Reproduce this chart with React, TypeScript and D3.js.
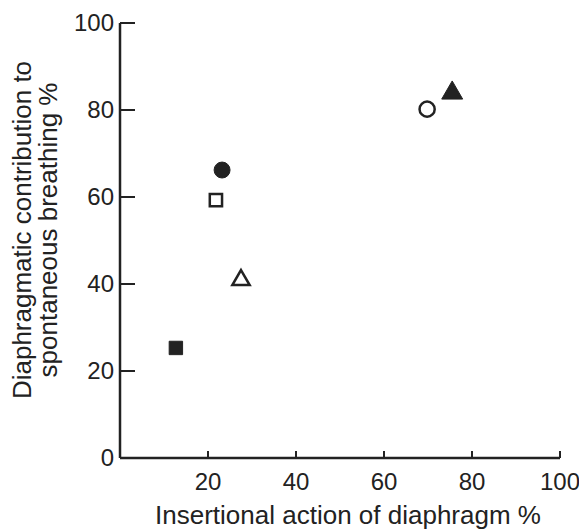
import React, { useEffect, useRef } from 'react';
import * as d3 from 'd3';

// points: [insertional action %, diaphragmatic contribution %]
const shapes = ['circle', 'square', 'triangle', 'square', 'circle', 'triangle'];
const filled = [true, false, false, true, false, true];
const xValues = [23.2, 21.8, 27.5, 12.7, 69.8, 75.5];
const yValues = [66.2, 59.3, 40.9, 25.3, 80.2, 83.9];
const xTicks = [20, 40, 60, 80, 100];
const yTicks = [0, 20, 40, 60, 80, 100];

const App = () => {
  const ref = useRef<SVGSVGElement>(null);

  useEffect(() => {
    const svg = d3.select(ref.current);
    svg.selectAll('*').remove();

    const x = d3.scaleLinear().domain([0, 100]).range([120, 560]);
    const y = d3.scaleLinear().domain([0, 100]).range([458, 23]);
    const font = 'Liberation Sans, Arial, sans-serif';
    const ink = '#222';

    // axes
    svg.append('line')
      .attr('x1', x(0)).attr('x2', x(100))
      .attr('y1', y(0)).attr('y2', y(0))
      .attr('stroke', ink).attr('stroke-width', 2.5);
    svg.append('line')
      .attr('x1', x(0)).attr('x2', x(0))
      .attr('y1', y(0)).attr('y2', y(100))
      .attr('stroke', ink).attr('stroke-width', 2.5);

    svg.selectAll('.xt')
      .data(xTicks)
      .enter()
      .append('line')
      .attr('x1', d => x(d)).attr('x2', d => x(d))
      .attr('y1', y(0)).attr('y2', y(0) - 7)
      .attr('stroke', ink).attr('stroke-width', 2);

    svg.selectAll('.yt')
      .data(yTicks.filter(d => d > 0))
      .enter()
      .append('line')
      .attr('x1', x(0)).attr('x2', x(0) + 15)
      .attr('y1', d => y(d)).attr('y2', d => y(d))
      .attr('stroke', ink).attr('stroke-width', 2);

    svg.selectAll('.xl')
      .data(xTicks)
      .enter()
      .append('text')
      .attr('x', d => x(d))
      .attr('y', 490)
      .attr('text-anchor', 'middle')
      .style('font-family', font).style('font-size', '24px').attr('fill', ink)
      .text(d => d);

    svg.selectAll('.yl')
      .data(yTicks)
      .enter()
      .append('text')
      .attr('x', 114)
      .attr('y', d => y(d) + 8)
      .attr('text-anchor', 'end')
      .style('font-family', font).style('font-size', '24px').attr('fill', ink)
      .text(d => d);

    // titles
    svg.append('text')
      .attr('x', 348).attr('y', 524)
      .attr('text-anchor', 'middle')
      .style('font-family', font).style('font-size', '26px').attr('fill', ink)
      .text('Insertional action of diaphragm %');

    const yt = svg.append('text')
      .attr('transform', 'translate(0,230) rotate(-90)')
      .attr('text-anchor', 'middle')
      .style('font-family', font).style('font-size', '26px').attr('fill', ink);
    yt.append('tspan').attr('x', 0).attr('y', 31).text('Diaphragmatic contribution to');
    yt.append('tspan').attr('x', 0).attr('y', 57).text('spontaneous breathing %');

    // points
    const data = xValues.map((v, i) => ({ x: v, y: yValues[i], shape: shapes[i], filled: filled[i] }));
    const symbolFor = (s: string) => s === 'circle' ? d3.symbolCircle : s === 'square' ? d3.symbolSquare : d3.symbolTriangle;
    const sizeFor = (d: any) => {
      if (d.shape === 'circle') return d.filled ? 200 : 180;
      if (d.shape === 'square') return d.filled ? 180 : 150;
      return d.filled ? 190 : 130;
    };

    svg.selectAll('.pt')
      .data(data)
      .enter()
      .append('path')
      .attr('transform', d => 'translate(' + x(d.x) + ',' + y(d.y) + ')')
      .attr('d', d => d3.symbol().type(symbolFor(d.shape)).size(sizeFor(d))())
      .attr('fill', d => d.filled ? ink : 'white')
      .attr('stroke', ink)
      .attr('stroke-width', d => d.filled ? 1 : 2.5);
  }, []);

  return (
    <svg ref={ref} width={579} height={530} style={{ position: 'absolute', left: 0, top: 0, background: 'white' }} />
  );
};

export default App;
